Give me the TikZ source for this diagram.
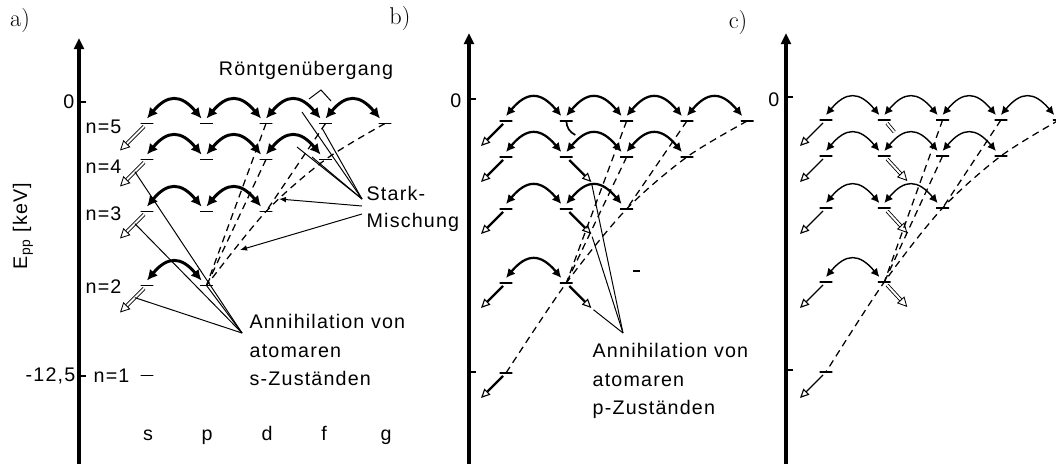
\documentclass[tikz,border=0pt]{standalone}
\usepackage{fontspec}
\newfontfamily\techfont[LetterSpace=6]{Liberation Sans}
\usetikzlibrary{arrows.meta,calc}

\begin{document}
\begin{tikzpicture}[x=0.25mm,y=-0.25mm,
  txt/.style={font=\techfont\fontsize{14}{20}\selectfont,inner sep=1pt},
  lvl/.style={draw,line width=1.3pt,minimum width=3.2mm,minimum height=0pt,inner sep=0pt,outer sep=0pt},
  axisline/.style={line width=2.7pt,-{Triangle[length=8pt,width=7pt]}},
  tick/.style={line width=1.2pt},
  arcarrow/.style={line cap=round},
  xray/.style={line width=0.9pt,dash pattern=on 5pt off 3.5pt},
  annsolid/.style={-{Triangle[open,length=6.5pt,width=6pt,line width=0.8pt]},shorten <=3pt},
  annhollow/.style={double,double distance=1.4pt,line width=0.6pt,
    -{Triangle[open,length=7pt,width=7pt,line width=0.6pt]},shorten <=3pt},
  note/.style={line width=0.7pt}
]
\useasboundingbox (0,0) rectangle (1056,464);

% axes
\draw[axisline] (79,464) -- (79,38);
\draw[tick] (79,102) -- (86,102);
\draw[tick] (79,376) -- (86,376);
\draw[axisline] (469,464) -- (469,33);
\draw[tick] (469,99) -- (476,99);
\draw[tick] (469,372) -- (476,372);
\draw[axisline] (786,464) -- (786,33);
\draw[tick] (786,97) -- (793,97);
\draw[tick] (786,370) -- (793,370);

\node[font=\LARGE] (la) at (20,20) {a)};
\node[font=\LARGE] (lb) at (400,18) {b)};
\node[font=\LARGE] (lc) at (738,22) {c)};
\node[txt,rotate=90] (epp) at (23,226) {E\textsubscript{pp} [keV]};
\node[txt,anchor=east] (za) at (76,102) {0};
\node[txt,anchor=east] (ka) at (77,376) {-12,5};
\node[txt,anchor=east] (zb) at (463,101) {0};
\node[txt,anchor=east] (zc) at (781,100) {0};
\foreach \n/\y in {5/127,4/167,3/214,2/287}
  \node[txt,anchor=west] (n\n) at (84,\y) {n=\n};
\node[txt,anchor=west] (n1) at (92,376) {n=1};
\foreach \lt/\x in {s/148,p/207,d/267,f/324,g/386}
  \node[txt,anchor=base] (col\lt) at (\x,440) {\lt};

% levels, Stark arcs and x-ray lines of the three panels
\foreach \pn/\dx/\dy/\cs/\lw/\hl in {a/0/2.5/59.5/2.1/7.5,b/359/0/60.3/1.6/6.5,c/679/-1/58.3/1/6}{
  \begin{scope}[shift={(\dx,\dy)}]
    \foreach \n/\y/\k in {5/121/4,4/157/3,3/209/2,2/283/1,1/373/0}
      \foreach \lt [count=\i from 0] in {s,p,d,f,g}{
        \ifnum\i>\k\relax\else
          \node[lvl] (\pn\lt\n) at ({147+\i*\cs},\y) {};
        \fi
      }
  \end{scope}
  \foreach \n/\k in {5/4,4/3,3/2,2/1}
    \foreach \la/\lb [count=\i] in {s/p,p/d,d/f,f/g}{
      \ifnum\i>\k\relax\else
        \draw[arcarrow,line width=\lw pt,{Latex[length=\hl pt,width=\hl pt]}-{Latex[length=\hl pt,width=\hl pt]}]
          ($(\pn\la\n)+(0,-5)$) to[bend left=50,looseness=1.5] ($(\pn\lb\n)+(-5,-5)$);
      \fi
    }
  \foreach \la/\lb in {d5/p2,d4/p2,f5/d3}
    \draw[xray] (\pn\la) -- (\pn\lb);
}
\draw[xray] plot[smooth,tension=0.5] coordinates {(ag5) (af4) (ad3) (ap2)};
\draw[xray] plot[smooth,tension=0.5] coordinates {(bg5) (bf4) (bd3) (bp2) (bs1)};
\draw[xray] plot[smooth,tension=0.5] coordinates {(cg5) (cf4) (cd3) (cp2) (cs1)};

% annihilation, panel a
\foreach \n in {5,4,3,2}{
  \coordinate (as\n t) at ($(as\n)+(-27,27)$);
  \coordinate (as\n m) at ($(as\n)!0.45!(as\n t)$);
  \draw[annhollow] (as\n) -- (as\n t);
}
% annihilation, panel b
\foreach \n in {5,4,3,2,1}{
  \coordinate (bs\n t) at ($(bs\n)+(-25,25)$);
  \draw[annsolid,line width=1.6pt] (bs\n) -- (bs\n t);
}
\foreach \n in {4,3,2}{
  \coordinate (bp\n t) at ($(bp\n)+(25,25)$);
  \draw[annsolid,line width=1.6pt] (bp\n) -- (bp\n t);
}
\coordinate (bp5t) at ($(bp5)+(9,14)$);
\draw[line width=1.2pt] (bp5) to[bend right=30] (bp5t);
\draw[line width=1.3pt] (633,271) -- (640,271);
% annihilation, panel c
\foreach \n in {5,4,3,2,1}{
  \coordinate (cs\n t) at ($(cs\n)+(-26,26)$);
  \draw[annsolid,line width=0.9pt] (cs\n) -- (cs\n t);
}
\foreach \n in {4,3,2}{
  \coordinate (cp\n t) at ($(cp\n)+(23,25)$);
  \draw[annhollow] (cp\n) -- (cp\n t);
}
\coordinate (cp5t) at ($(cp5)+(10,12)$);
\draw[double,double distance=1.4pt,line width=0.6pt,shorten <=3pt] (cp5) -- (cp5t);

% labels of panel a
\node[txt] (roent) at (306,70) {Röntgenübergang};
\coordinate (rtop) at (321,90);
\coordinate (rleft) at (309,99);
\coordinate (rright) at (331,101);
\draw[note] (rleft) -- (rtop) -- (rright);

\node[txt,anchor=west] (stark) at (365,193) {Stark-};
\node[txt,anchor=west] (misch) at (365,222) {Mischung};
\coordinate (sa) at (362,199);
\coordinate (sm1) at (302,112);
\coordinate (sm2) at (322,128);
\coordinate (sm3) at (297,147);
\coordinate (sm4) at (312,157);
\foreach \c in {sm1,sm2,sm3,sm4}
  \draw[note] (sa) -- (\c);
\coordinate (sb) at (362,206);
\coordinate (sm5) at (279,199);
\draw[note,-{Latex[length=5pt,width=4pt]}] (sb) -- (sm5);
\coordinate (sc) at (362,214);
\coordinate (sm6) at (240,250);
\draw[note,-{Latex[length=5pt,width=4pt]}] (sc) -- (sm6);

\node[txt,anchor=west,align=left] (annis) at (248,350) {Annihilation von\\atomaren\\s-Zuständen};
\coordinate (aa) at (242,333);
\foreach \c in {as4m,as3m,as2m,ap2}
  \draw[note] (aa) -- (\c);

% labels of panel b
\node[txt,anchor=west,align=left] (annip) at (591,381) {Annihilation von\\atomaren\\p-Zuständen};
\coordinate (ba) at (623,333);
\foreach \c in {bp4t,bp3t,bp2t}
  \draw[note,shorten >=2pt] (ba) -- (\c);
\end{tikzpicture}
\end{document}
